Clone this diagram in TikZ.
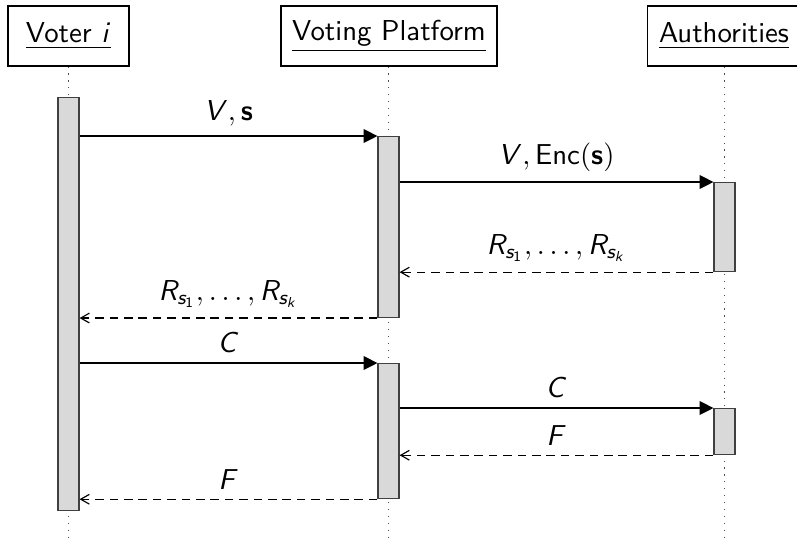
\documentclass[tikz,border=0pt]{standalone}
\usetikzlibrary{arrows.meta}
% sans-serif math letters
\DeclareMathAlphabet{\mathsfit}{OT1}{cmss}{m}{sl}
\DeclareMathAlphabet{\mathsfbf}{OT1}{cmss}{bx}{n}
\DeclareMathAlphabet{\mathsfup}{OT1}{cmss}{m}{n}
\begin{document}
\begin{tikzpicture}[x=0.3472pt, y=-0.3472pt, font=\sffamily,
  head/.style={draw, inner sep=0pt, minimum height=20.8pt},
  life/.style={dotted, black!70},
  bar/.style={draw=black!75, fill=gray!30, inner sep=0pt, minimum width=7.3pt, anchor=north},
  call/.style={-{Triangle[length=4.8pt, width=4.8pt]}},
  reply/.style={dashed, dash pattern=on 3pt off 2pt, -{Straight Barb[length=3pt, width=3.4pt]}},
  msg/.style={above, midway}]
\useasboundingbox (0,0) rectangle (797,540);

% participants
\node[head, minimum width=42pt] (vh) at (68.5,36) {\underline{Voter $\mathsfit{i}$}};
\node[head, minimum width=75pt] (ph) at (389,36) {\underline{Voting Platform}};
\node[head, minimum width=53pt] (ah) at (724,36) {\underline{Authorities}};

% lifelines
\coordinate (vend) at (68.5,540);
\coordinate (pend) at (388.5,540);
\coordinate (aend) at (724.5,540);
\draw[life] (vh.south -| vend) -- (vend);
\draw[life] (ph.south -| pend) -- (pend);
\draw[life] (ah.south -| aend) -- (aend);

% activation bars
\node[bar, minimum height=143.4pt] (vb)  at (68.5,97)  {};
\node[bar, minimum height=62.8pt]  (pb1) at (388.5,136) {};
\node[bar, minimum height=46.9pt]  (pb2) at (388.5,363) {};
\node[bar, minimum height=30.9pt]  (ab1) at (724.5,182) {};
\node[bar, minimum height=16.0pt]  (ab2) at (724.5,408) {};

% messages
\draw[call] (vb.east |- pb1.north) -- node[msg] {$\mathsfit{V}, \mathsfbf{s}$} (pb1.north west);
\draw[call] (pb1.east |- ab1.north) -- node[msg] {$\mathsfit{V}, \mathsfup{Enc}(\mathsfbf{s})$} (ab1.north west);
\draw[reply] (ab1.south west) -- node[msg] {$\mathsfit{R}_{\mathsfit{s}_{\mathsfup{1}}}, \ldots, \mathsfit{R}_{\mathsfit{s}_{\mathsfit{k}}}$} (pb1.east |- ab1.south);
\draw[reply] (pb1.south west) -- node[msg] {$\mathsfit{R}_{\mathsfit{s}_{\mathsfup{1}}}, \ldots, \mathsfit{R}_{\mathsfit{s}_{\mathsfit{k}}}$} (vb.east |- pb1.south);
\draw[call] (vb.east |- pb2.north) -- node[msg] {$\mathsfit{C}$} (pb2.north west);
\draw[call] (pb2.east |- ab2.north) -- node[msg] {$\mathsfit{C}$} (ab2.north west);
\draw[reply] (ab2.south west) -- node[msg] {$\mathsfit{F}$} (pb2.east |- ab2.south);
\draw[reply] (pb2.south west) -- node[msg] {$\mathsfit{F}$} (vb.east |- pb2.south);
\end{tikzpicture}
\end{document}
